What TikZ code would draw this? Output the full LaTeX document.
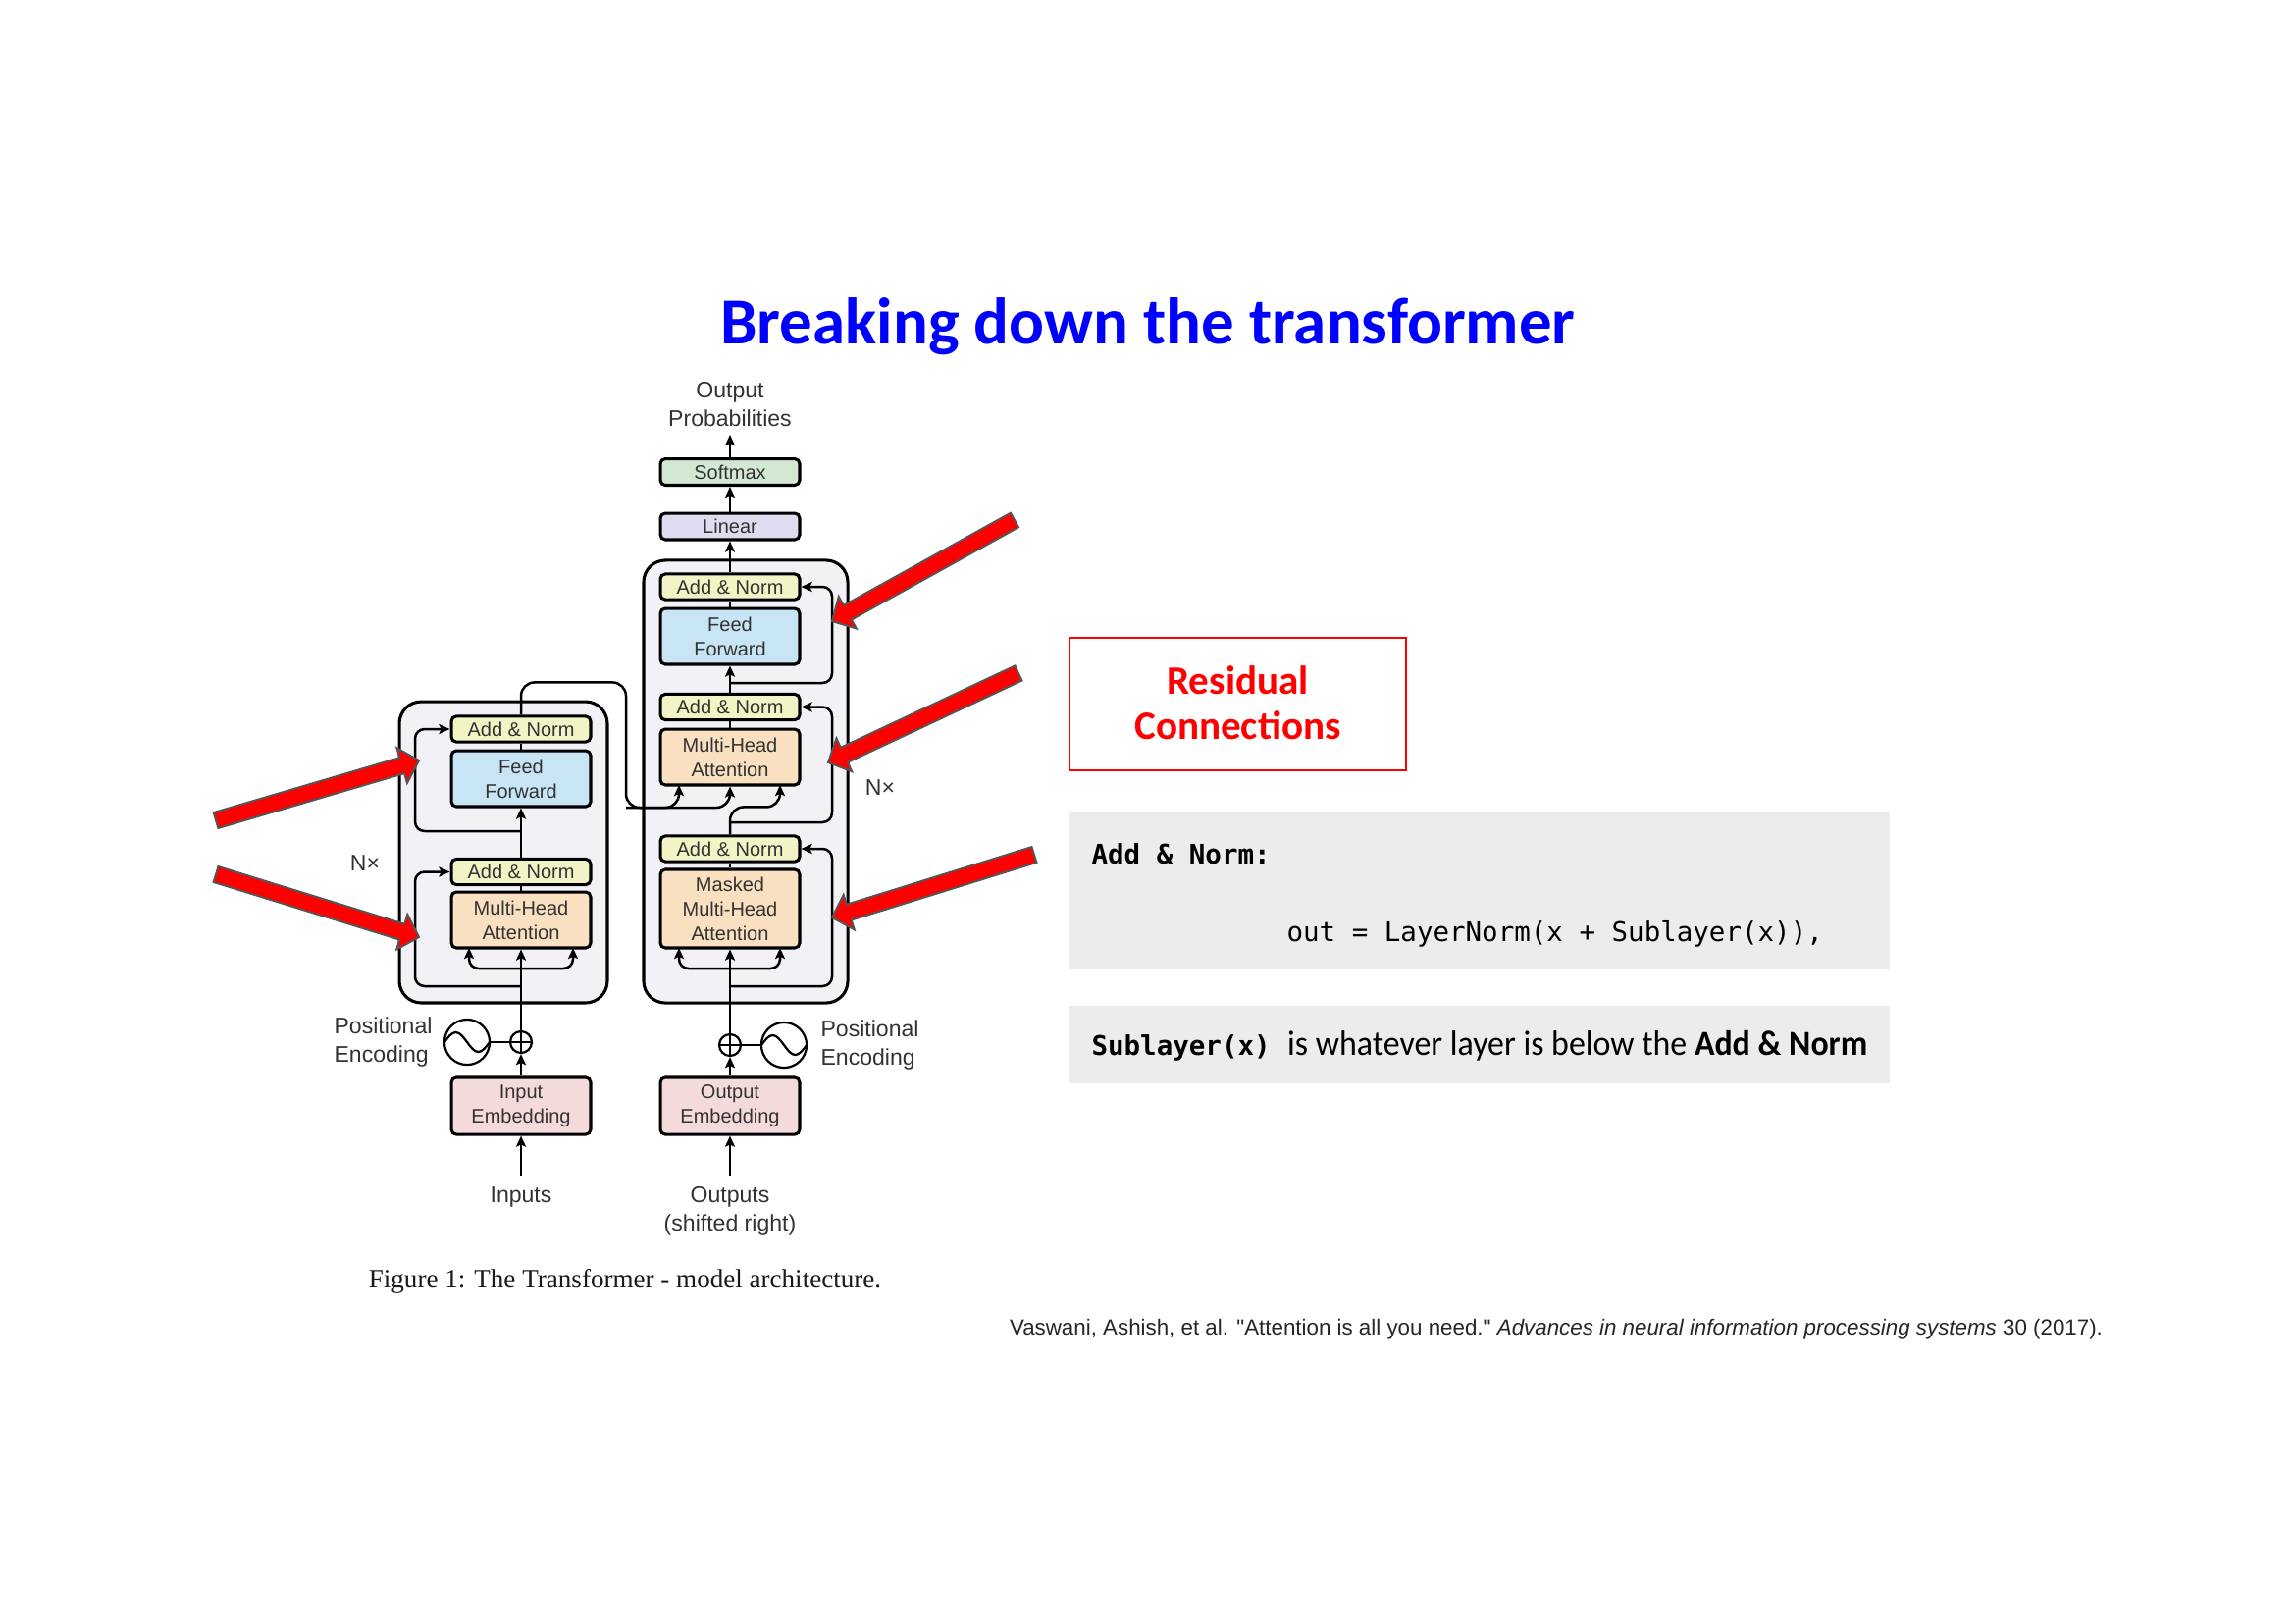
\documentclass[tikz,border=0pt]{standalone}
\usepackage{fontspec}
\usepackage{graphicx}
\setmainfont{Liberation Sans}
\newfontfamily\calfont{Carlito}
\newfontfamily\codefont{DejaVu Sans Mono}
\newfontfamily\serfont{Liberation Serif}
\newfontfamily\citefont{Liberation Sans}[Ligatures=TeXOff]
\usetikzlibrary{arrows.meta,calc}
\definecolor{cAN}{HTML}{F3F4C6}
\definecolor{cFF}{HTML}{C7E5F4}
\definecolor{cMHA}{HTML}{F9E0C0}
\definecolor{cSM}{HTML}{D2E8D3}
\definecolor{cLin}{HTML}{DDDDEF}
\definecolor{cEmb}{HTML}{F4DADA}
\definecolor{cBig}{HTML}{F2F2F6}
\definecolor{cGray}{HTML}{ECECEC}
\definecolor{tblue}{HTML}{0000FF}
\definecolor{rred}{HTML}{FF0000}
\definecolor{txt}{HTML}{333333}
\definecolor{aout}{HTML}{555555}
\tikzset{
  blk/.style={draw, line width=1.1pt, rounded corners=1.8pt, minimum width=51.1pt, inner sep=0pt, align=center, text=txt, font=\fontsize{7.2}{9}\selectfont},
  anbox/.style={blk, fill=cAN, minimum height=9.4pt},
  ffbox/.style={blk, fill=cFF, minimum height=20.5pt},
  mhabox/.style={blk, fill=cMHA, minimum height=20.5pt},
  embbox/.style={blk, fill=cEmb, minimum height=20.9pt},
  bigbox/.style={draw, line width=1.1pt, fill=cBig, rounded corners=8pt, inner sep=0pt},
  lbl/.style={text=txt, font=\fontsize{8.3}{10.5}\selectfont, align=center, inner sep=0pt},
  ln/.style={line width=0.9pt},
  arr/.style={line width=0.9pt, -{Stealth[length=4pt,width=3.6pt,inset=0.8pt]}},
  rc/.style={rounded corners=3.5pt},
  oplus/.style={circle, draw, line width=0.8pt, fill=white, minimum size=7.9pt, inner sep=0pt,
    path picture={\draw[line width=0.6pt] (path picture bounding box.north) -- (path picture bounding box.south)
      (path picture bounding box.west) -- (path picture bounding box.east);}},
  sinec/.style={circle, draw, line width=0.8pt, minimum size=16.6pt, inner sep=0pt},
  redarr/.style={fill=rred, draw=aout, line width=0.7pt, line join=miter},
}
\newcommand\bigred[2]{%
  \coordinate (hh) at ($(#2)!6.5pt!(#1)$);
  \filldraw[redarr] ($(#1)!3pt!90:(#2)$) -- ($(hh)!3pt!90:(#2)$) -- ($(hh)!6.7pt!90:(#2)$) -- (#2)
    -- ($(hh)!6.7pt!-90:(#2)$) -- ($(hh)!3pt!-90:(#2)$) -- ($(#1)!3pt!-90:(#2)$) -- cycle;}
\begin{document}
\begin{tikzpicture}[x=0.36pt,y=-0.36pt]
\useasboundingbox (0,0) rectangle (2339,1654);
\fill[white] (0,0) rectangle (2339,1654);

% title
\node[anchor=base, text=tblue, inner sep=0pt, font=\calfont\bfseries\fontsize{24}{28}\selectfont] (title) at (1170,350)
  {\resizebox{313.6pt}{!}{Breaking down the transformer}};

% big boxes
\node[bigbox, minimum width=76.3pt, minimum height=110.5pt] (encbox) at (513,868.5) {};
\node[bigbox, minimum width=74.9pt, minimum height=162.4pt] (decbox) at (760,796.5) {};

% encoder nodes
\node[anbox] (ean2) at (531,743) {Add \& Norm};
\node[ffbox] (eff) at (531,793.5) {Feed\\Forward};
\node[anbox] (ean1) at (531,888.5) {Add \& Norm};
\node[mhabox] (emha) at (531,937.5) {Multi-Head\\Attention};
\node[embbox] (eemb) at (531,1127) {Input\\Embedding};
\node[oplus] (eplus) at (531,1062) {};
\node[sinec] (esine) at (476,1062) {};
\draw[line width=0.8pt] (453,1062) sin (464.5,1052) cos (476,1062) sin (487.5,1072) cos (499,1062);

% decoder nodes
\node[blk, fill=cSM, minimum height=9.7pt] (soft) at (744,481) {Softmax};
\node[blk, fill=cLin, minimum height=9.7pt] (lin) at (744,536.5) {Linear};
\node[anbox] (dan3) at (744,598) {Add \& Norm};
\node[ffbox] (dff) at (744,648.5) {Feed\\Forward};
\node[anbox] (dan2) at (744,720.5) {Add \& Norm};
\node[mhabox] (dmha) at (744,771.5) {Multi-Head\\Attention};
\node[anbox] (dan1) at (744,865) {Add \& Norm};
\node[mhabox, minimum height=28.8pt] (dmask) at (744,926) {Masked\\Multi-Head\\Attention};
\node[embbox] (demb) at (744,1127) {Output\\Embedding};
\node[oplus] (dplus) at (744,1065) {};
\node[sinec] (dsine) at (799,1065) {};
\draw[line width=0.8pt] (776,1065) sin (787.5,1055) cos (799,1065) sin (810.5,1075) cos (822,1065);

% labels
\node[lbl] (outprob) at (744,412) {Output\\Probabilities};
\node[lbl, align=left, anchor=west] (epos) at (340,1062) {Positional\\Encoding};
\node[lbl, align=left, anchor=west] (dpos) at (836,1065) {Positional\\Encoding};
\node[lbl] (inputs) at (531,1220) {Inputs};
\node[lbl] (outputs) at (744,1234.5) {Outputs\\(shifted right)};
\node[lbl] (enx) at (372,880) {N×};
\node[lbl] (dnx) at (897,803) {N×};

% coordinates
\coordinate (ein) at (531,1198);
\coordinate (din) at (744,1198);
\coordinate (otip) at (744,443);
\coordinate (efk) at (531,987);
\coordinate (eK) at (478,966);
\coordinate (eV) at (584,966);
\coordinate (dfk) at (744,987);
\coordinate (dmK) at (692,966);
\coordinate (dmV) at (795,966);
\coordinate (dK) at (692,800);
\coordinate (dQ) at (795,800);
\coordinate (er1) at (531,1005);
\coordinate (er2) at (531,847);
\coordinate (dr1) at (744,1005);
\coordinate (dr2) at (744,838);
\coordinate (dr3) at (744,696);
\coordinate (ecross) at (638,823);

% encoder connectors
\draw[arr] (ein) -- (eemb.south);
\draw[arr] (eemb.north) -- (eplus.south);
\draw[arr] (eplus.north) -- (emha.south);
\draw[ln] (esine.east) -- (eplus.west);
\draw[arr, rc] (efk) -| (eK);
\draw[arr, rc] (efk) -| (eV);
\draw[ln] (emha.north) -- (ean1.south);
\draw[arr] (ean1.north) -- (eff.south);
\draw[ln] (eff.north) -- (ean2.south);
\draw[arr, rc] (er1) -- ++(-108,0) |- (ean1.west);
\draw[arr, rc] (er2) -- ++(-108,0) |- (ean2.west);
\draw[arr, rounded corners=5pt] (ean2.north) -- ++(0,-33) -| (ecross) -| (dK);
\draw[arr, rounded corners=5pt] (ecross) -| (dmha.south);

% decoder connectors
\draw[arr] (din) -- (demb.south);
\draw[arr] (demb.north) -- (dplus.south);
\draw[arr] (dplus.north) -- (dmask.south);
\draw[ln] (dsine.west) -- (dplus.east);
\draw[arr, rc] (dfk) -| (dmK);
\draw[arr, rc] (dfk) -| (dmV);
\draw[ln] (dmask.north) -- (dan1.south);
\draw[arr, rc] (dr1) -- ++(104,0) |- (dan1.east);
\draw[arr, rounded corners=5pt] (dan1.north) -- ++(0,-28) -| (dQ);
\draw[arr, rc] (dr2) -- ++(104,0) |- (dan2.east);
\draw[ln] (dmha.north) -- (dan2.south);
\draw[arr] (dan2.north) -- (dff.south);
\draw[arr, rc] (dr3) -- ++(104,0) |- (dan3.east);
\draw[ln] (dff.north) -- (dan3.south);
\draw[arr] (dan3.north) -- (lin.south);
\draw[arr] (lin.north) -- (soft.south);
\draw[arr] (soft.north) -- (otip);

% red arrows
\coordinate (tA1) at (220,836); \coordinate (pA1) at (427,775);
\coordinate (tA2) at (220,891); \coordinate (pA2) at (427,955);
\coordinate (tA3) at (1034,530); \coordinate (pA3) at (848,633);
\coordinate (tA4) at (1038,686); \coordinate (pA4) at (844,777);
\coordinate (tA5) at (1054,871); \coordinate (pA5) at (848,935);
\bigred{tA1}{pA1}
\bigred{tA2}{pA2}
\bigred{tA3}{pA3}
\bigred{tA4}{pA4}
\bigred{tA5}{pA5}

% caption
\node[anchor=base, inner sep=0pt, text=black!90, font=\serfont\fontsize{8}{10}\selectfont] (caption) at (637,1312)
  {\resizebox{188pt}{!}{Figure 1: The Transformer - model architecture.}};

% residual box
\node[draw=rred, line width=0.7pt, minimum width=123.5pt, minimum height=48.6pt, inner sep=0pt] (resbox) at (1261.5,717.5) {};
\node[anchor=base, text=rred, inner sep=0pt, font=\calfont\bfseries\fontsize{14.8}{17}\selectfont] (res1) at (1261.5,707) {Residual};
\node[anchor=base, text=rred, inner sep=0pt, font=\calfont\bfseries\fontsize{14.8}{17}\selectfont] (res2) at (1261.5,753) {Connections};

% gray boxes
\node[fill=cGray, minimum width=300.9pt, minimum height=57.6pt, inner sep=0pt] (g1) at (1508,908) {};
\node[fill=cGray, minimum width=300.9pt, minimum height=28.4pt, inner sep=0pt] (g2) at (1508,1064.5) {};
\node[anchor=base west, inner sep=0pt, font=\codefont\bfseries\fontsize{9.9}{12}\selectfont] (addnorm) at (1112,880) {Add \& Norm:};
\node[anchor=base west, inner sep=0pt, font=\codefont\fontsize{9.9}{12}\selectfont] (formula) at (1311,959) {out = LayerNorm(x + Sublayer(x)),};
\node[anchor=base west, inner sep=0pt] (subl) at (1112,1075)
  {{\codefont\bfseries\fontsize{9.9}{12}\selectfont Sublayer(x)}\hspace{6.3pt}{\calfont\fontsize{12.9}{15}\selectfont\resizebox{212.8pt}{\height}{is whatever layer is below the \textbf{Add \& Norm}}}};

% citation
\node[anchor=base, inner sep=0pt, text=black!85, font=\citefont\fontsize{7}{9}\selectfont] (cite) at (1586,1360)
  {\resizebox{401pt}{!}{Vaswani, Ashish, et al. "Attention is all you need." \textit{Advances in neural information processing systems} 30 (2017).}};
\end{tikzpicture}
\end{document}
